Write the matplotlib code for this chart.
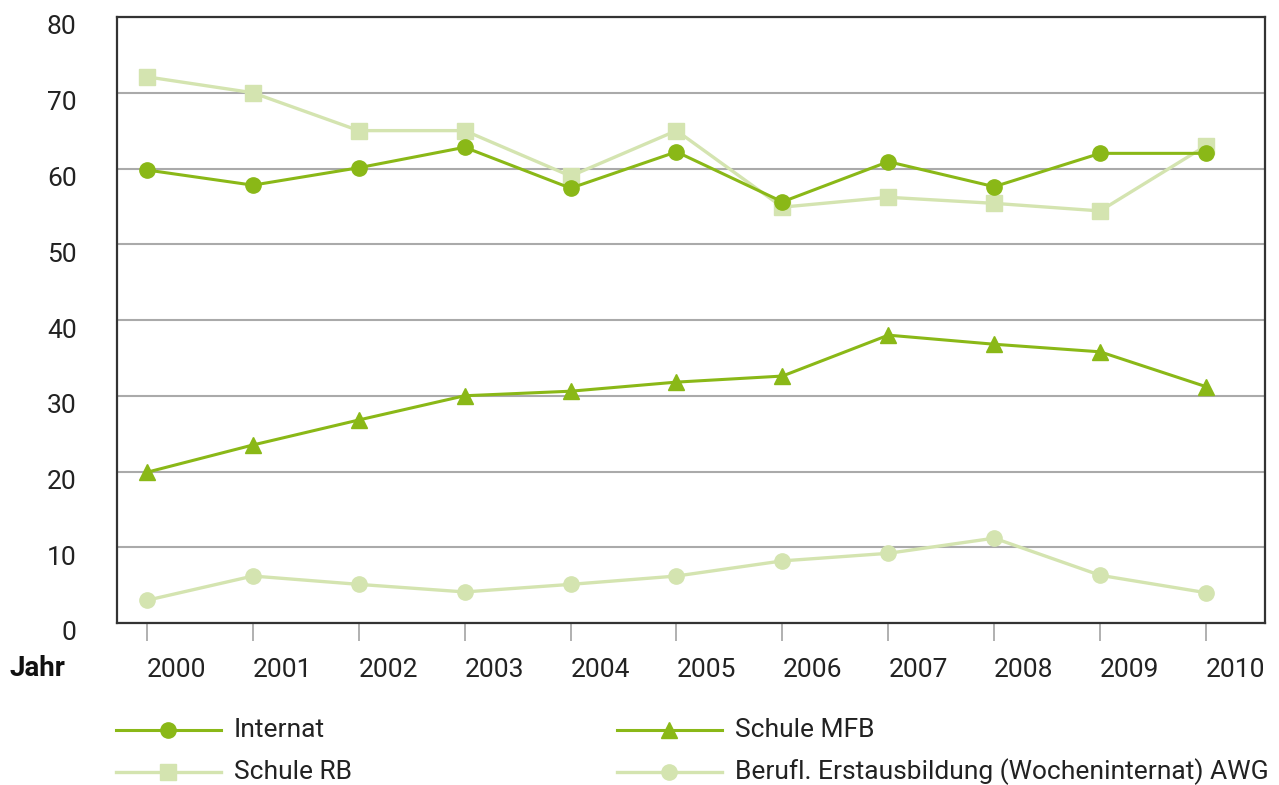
import matplotlib
matplotlib.use("Agg")
import matplotlib.pyplot as plt
from matplotlib.lines import Line2D
import matplotlib.transforms as mtransforms

plt.rcParams['font.family'] = ['Roboto', 'DejaVu Sans']

years = [2000, 2001, 2002, 2003, 2004, 2005, 2006, 2007, 2008, 2009, 2010]
internat = [59.8, 57.8, 60.1, 62.8, 57.4, 62.2, 55.6, 60.9, 57.6, 62.0, 62.0]
schule_rb = [72.1, 70.0, 65.0, 65.0, 59.0, 65.0, 54.9, 56.2, 55.4, 54.4, 63.0]
schule_mfb = [19.9, 23.5, 26.8, 30.0, 30.6, 31.8, 32.6, 38.0, 36.8, 35.8, 31.2]
berufl = [3.0, 6.2, 5.1, 4.1, 5.1, 6.2, 8.2, 9.2, 11.2, 6.3, 4.0]
yticks = [0, 10, 20, 30, 40, 50, 60, 70, 80]
labels = ["Internat", "Schule MFB", "Schule RB",
          "Berufl. Erstausbildung (Wocheninternat) AWG"]

DARK = "#8ab817"
LIGHT = "#d4e4b0"
TXT = "#222222"
FS = 19

fig = plt.figure(figsize=(12.79, 7.85), dpi=100)
ax = fig.add_axes([117/1279, 1-623/785, (1265-117)/1279, (623-17)/785])

styles = [
    (schule_rb, dict(color=LIGHT, marker='s', markersize=11, lw=2.4)),
    (berufl, dict(color=LIGHT, marker='o', markersize=11, lw=2.4)),
    (schule_mfb, dict(color=DARK, marker='^', markersize=11, lw=2.2)),
    (internat, dict(color=DARK, marker='o', markersize=11, lw=2.2)),
]
for vals, st in styles:
    ax.plot(years, vals, zorder=3, **st)

ax.set_xlim(1999.717, 2010.557)
ax.set_ylim(0, 80)
ax.set_yticks(yticks)
ax.set_xticks(years)
ax.set_xticklabels([str(y) for y in years], fontsize=FS, color=TXT, ha='left')
ax.set_yticklabels([str(v) for v in yticks], fontsize=FS, color=TXT)
ax.tick_params(axis='y', length=0, pad=29)
ax.tick_params(axis='x', length=13, width=1.3, color="#aaaaaa", pad=12)
off = mtransforms.ScaledTranslation(0, -8/100, fig.dpi_scale_trans)
for lab in ax.get_yticklabels():
    lab.set_transform(lab.get_transform() + off)
ax.grid(axis='y', color="#aaaaaa", lw=1.5, zorder=1)
ax.grid(axis='x', visible=False)
ax.set_axisbelow(True)
for sp in ax.spines.values():
    sp.set_color("#333333")
    sp.set_linewidth(1.6)

fig.text(10/1279, 1-668/785, "Jahr", fontsize=FS + 1, fontweight='bold',
         va='center', ha='left', color="#111111")

# legend
leg = [
    (116, 730, labels[0], DARK, 'o', 2.2),
    (617, 730, labels[1], DARK, '^', 2.2),
    (116, 772, labels[2], LIGHT, 's', 2.4),
    (617, 772, labels[3], LIGHT, 'o', 2.4),
]
for x0, y0, txt, col, mk, lw in leg:
    yf = 1 - y0/785
    fig.add_artist(Line2D([x0/1279, (x0+105)/1279], [yf, yf], color=col, lw=lw,
                          transform=fig.transFigure))
    fig.add_artist(Line2D([(x0+52)/1279], [yf], color=col, marker=mk,
                          markersize=11, lw=0, transform=fig.transFigure))
    fig.text((x0+118)/1279, yf, txt, fontsize=FS, va='center', ha='left',
             color=TXT)

fig.savefig("out.png", dpi=100)
